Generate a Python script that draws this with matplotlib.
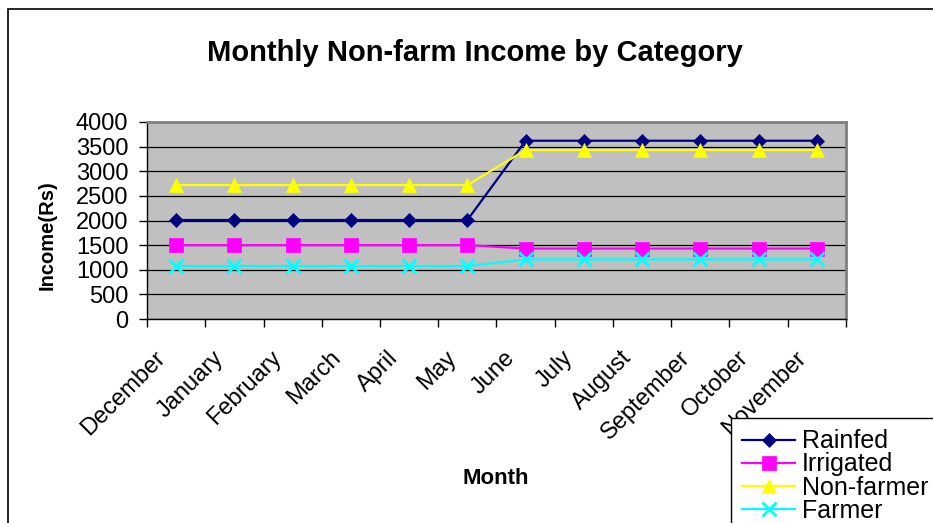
import matplotlib
matplotlib.use("Agg")
import matplotlib.pyplot as plt
import matplotlib.transforms as mtransforms
from matplotlib.patches import Rectangle

months = ["December", "January", "February", "March", "April", "May",
          "June", "July", "August", "September", "October", "November"]
rainfed = [2010, 2010, 2010, 2010, 2010, 2010, 3620, 3620, 3620, 3620, 3620, 3620]
irrigated = [1500, 1500, 1500, 1500, 1500, 1500, 1430, 1430, 1430, 1430, 1430, 1430]
non_farmer = [2720, 2720, 2720, 2720, 2720, 2720, 3430, 3430, 3430, 3430, 3430, 3430]
farmer = [1075, 1075, 1075, 1075, 1075, 1075, 1210, 1210, 1210, 1210, 1210, 1210]
y_ticks = [0, 500, 1000, 1500, 2000, 2500, 3000, 3500, 4000]

plt.rcParams['font.family'] = ['Liberation Sans', 'DejaVu Sans']

W, H = 933, 523
fig = plt.figure(figsize=(W / 100, H / 100), dpi=100)
ax = fig.add_axes([147 / W, 1 - 319 / H, 699 / W, 197 / H])
ax.set_facecolor('#C0C0C0')

x = list(range(len(months)))
series = [
    ("Rainfed", rainfed, '#000080', 'D', 7),
    ("Irrigated", irrigated, '#FF00FF', 's', 10),
    ("Non-farmer", non_farmer, '#FFFF00', '^', 10.5),
    ("Farmer", farmer, '#00FFFF', 'x', 10),
]
for i, (name, vals, col, mk, ms) in enumerate(series):
    if mk == 'x':
        ax.plot(x, vals, color=col, lw=1.6, marker=mk, ms=ms, mew=2,
                label=name, zorder=3 + i, clip_on=False)
    else:
        ax.plot(x, vals, color=col, lw=1.6, marker=mk, ms=ms, mfc=col,
                mec=col, mew=0.5, label=name, zorder=3 + i, clip_on=False)

ax.set_xlim(-0.5, len(months) - 0.5)
ax.set_ylim(0, 4000)
ax.set_yticks(y_ticks)
ax.set_yticklabels([str(v) for v in y_ticks])
ax.yaxis.grid(True, color='black', lw=0.9)
ax.set_axisbelow(True)

# x: ticks at category boundaries, labels at centers
ax.set_xticks([i - 0.5 for i in range(len(months) + 1)])
ax.set_xticklabels([])
ax.set_xticks(x, minor=True)
ax.set_xticklabels(months, minor=True, rotation=45, ha='right', va='center',
                   rotation_mode='anchor', fontsize=17)
ax.tick_params(axis='x', which='major', length=5.5, width=1, direction='out')
ax.tick_params(axis='x', which='minor', length=0, pad=25.5)
ax.tick_params(axis='y', length=5.5, width=1, pad=8, labelsize=17)
off = mtransforms.ScaledTranslation(-14 / 100, 0, fig.dpi_scale_trans)
for lab in ax.get_xticklabels(minor=True):
    lab.set_transform(lab.get_transform() + off)

for s in ['left', 'bottom']:
    ax.spines[s].set_color('black')
    ax.spines[s].set_linewidth(1)
for s in ['top', 'right']:
    ax.spines[s].set_color('#808080')
    ax.spines[s].set_linewidth(2)

ax.set_ylabel('Income(Rs)', fontsize=14.5, fontweight='bold', va='center')
ax.yaxis.set_label_coords(-0.143, 0.425)
ax.set_xlabel('Month', fontsize=16, fontweight='bold', va='center')
ax.xaxis.set_label_coords(0.4993, -0.812)

fig.text(475 / W, 1 - 53.3 / H, 'Monthly Non-farm Income by Category',
         fontsize=21, fontweight='bold', ha='center', va='center')

leg = fig.legend(loc='upper left', bbox_to_anchor=(731 / W, 1 - 418 / H),
                 bbox_transform=fig.transFigure, borderaxespad=0,
                 fontsize=18, frameon=True, fancybox=False, edgecolor='black',
                 framealpha=1, borderpad=0.45, labelspacing=-0.03,
                 handlelength=2.1, handletextpad=0.3)
leg.get_frame().set_linewidth(1)

fig.patches.append(Rectangle((8 / W, -0.1), 1.5, 0.1 + 1 - 9 / H,
                             transform=fig.transFigure, fill=False,
                             edgecolor='black', lw=1.2))

fig.savefig('out.png', dpi=100)
